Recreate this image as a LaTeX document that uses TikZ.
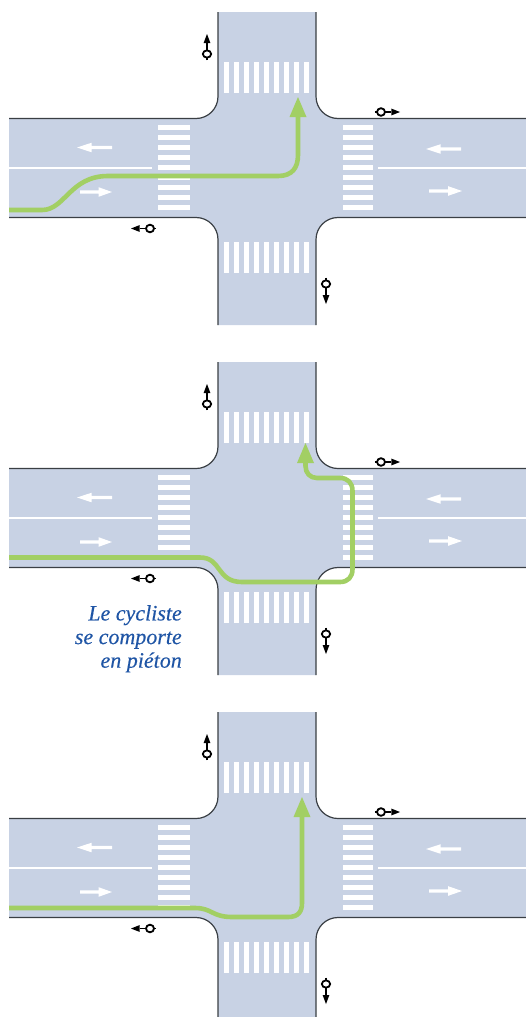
\documentclass[tikz,border=0pt]{standalone}
\usepackage{fontspec}
\setmainfont{Liberation Serif}
\newfontfamily\notefont[ItalicFeatures={FakeBold=0.3}]{Liberation Serif}
\definecolor{road}{HTML}{C8D2E4}
\definecolor{cyc}{HTML}{A2CF64}
\definecolor{edge}{HTML}{3A3F44}
\definecolor{note}{HTML}{1F55A5}
\tikzset{
 x=1pt,y=-1pt,
 curb/.style={draw=edge,line width=1.2pt},
 zebra/.style={fill=white,draw=none},
 lane/.style={draw=white,line width=2pt},
 cycle/.style={draw=cyc,line width=4.6pt,line join=round},
 cyclehead/.style={fill=cyc,draw=none},
 sigring/.style={draw=black,line width=1.8pt,fill=white},
 sigstem/.style={draw=black,line width=1.6pt},
}
\newcommand{\lanearrow}[3]{%
 \fill[white] (#1,#3) -- ({#1+0.42*(#2-#1)},{#3-4.8}) -- ({#1+0.42*(#2-#1)},{#3-1.7}) -- (#2,{#3-1.7}) -- (#2,{#3+1.7}) -- ({#1+0.42*(#2-#1)},{#3+1.7}) -- ({#1+0.42*(#2-#1)},{#3+4.8}) -- cycle;}
\newcommand{\signalh}[3]{% ring x, y, tip x
 \draw[sigstem] (#1,#2) -- ({#1+0.55*(#3-#1)},#2);
 \fill[black] (#3,#2) -- ({#1+0.55*(#3-#1)},{#2-3.4}) -- ({#1+0.55*(#3-#1)},{#2+3.4}) -- cycle;
 \draw[sigstem] ({#1-(#3-#1)*0.32},#2) -- (#1,#2);
 \draw[sigring] (#1,#2) ellipse [x radius=4,y radius=3.8];}
\newcommand{\signalv}[3]{% ring x, y, tip y
 \draw[sigstem] (#1,#2) -- (#1,{#2+0.55*(#3-#2)});
 \fill[black] (#1,#3) -- ({#1-3.4},{#2+0.55*(#3-#2)}) -- ({#1+3.4},{#2+0.55*(#3-#2)}) -- cycle;
 \draw[sigstem] (#1,{#2-(#3-#2)*0.32}) -- (#1,#2);
 \draw[sigring] (#1,#2) ellipse [x radius=4.2,y radius=3.6];}
\newcommand{\panelbase}{%
 \fill[road] (9,118.5) -- (196,118.5) arc[start angle=90,end angle=0,radius=22] -- (218,12) -- (316,12) -- (316,96.5) arc[start angle=180,end angle=90,radius=22] -- (526,118.5) -- (526,217.5) -- (338,217.5) arc[start angle=270,end angle=180,radius=22] -- (316,325) -- (218,325) -- (218,239.5) arc[start angle=0,end angle=-90,radius=22] -- (9,217.5) -- cycle;
 \draw[curb] (9,118.5) -- (196,118.5) arc[start angle=90,end angle=0,radius=22] -- (218,12);
 \draw[curb] (316,12) -- (316,96.5) arc[start angle=180,end angle=90,radius=22] -- (526,118.5);
 \draw[curb] (526,217.5) -- (338,217.5) arc[start angle=270,end angle=180,radius=22] -- (316,325);
 \draw[curb] (218,325) -- (218,239.5) arc[start angle=0,end angle=-90,radius=22] -- (9,217.5);
 \foreach \i in {0,...,8}{
  \fill[zebra] ({224+9.95*\i},62) rectangle ({229+9.95*\i},93);
  \fill[zebra] ({224+9.95*\i},242) rectangle ({229+9.95*\i},273);
  \fill[zebra] (158,{125.3+10*\i}) rectangle (189.5,{130.2+10*\i});
  \fill[zebra] (342.5,{125.3+10*\i}) rectangle (373,{130.2+10*\i});
 }
 \draw[lane] (9,168) -- (152,168);
 \draw[lane] (378,168) -- (526,168);
 \lanearrow{77}{112}{147.5}
 \lanearrow{112}{80}{192}
 \lanearrow{426}{461}{149}
 \lanearrow{462}{429}{191}
 \signalv{207}{54}{34}
 \signalh{150}{228.5}{131}
 \signalh{381}{112}{400}
 \signalv{326}{284}{304}
}
\begin{document}
\begin{tikzpicture}
\useasboundingbox (0,0) rectangle (526,1017);
\begin{scope}
 \panelbase
 \draw[cycle] (9,210) -- (42,210) .. controls (65,210) and (70,176) .. (108,176) -- (278,176) .. controls (292,176) and (298,168) .. (298,155) -- (298,112);
 \fill[cyclehead] (298,97) -- (306.5,117) -- (289.5,117) -- cycle;
\end{scope}
\begin{scope}[yshift=-350pt]
 \panelbase
 \draw[cycle] (9,207.5) -- (200,207.5) .. controls (222,207.5) and (216,232) .. (242,232) -- (340,232) .. controls (348,232) and (352.5,227) .. (352.5,219) -- (352.5,141) .. controls (352.5,133) and (348,128) .. (340,128) -- (317,128) .. controls (310,128) and (305.5,123) .. (305.5,116) -- (305.5,108);
 \fill[cyclehead] (305.5,93) -- (314,113) -- (297,113) -- cycle;
\end{scope}
\begin{scope}[yshift=-700pt]
 \panelbase
 \draw[cycle] (9,208) -- (195,208) .. controls (212,208) and (212,217) .. (232,217) -- (288,217) .. controls (298,217) and (302,212) .. (302,203) -- (302,112);
 \fill[cyclehead] (302,97) -- (310.5,117) -- (293.5,117) -- cycle;
\end{scope}
\node[anchor=north east,align=right,inner sep=0pt,text=note,font=\notefont\fontsize{22}{23.6}\selectfont\itshape] (note) at (182,605) {Le cycliste\\se comporte\\en piéton};
\end{tikzpicture}
\end{document}
